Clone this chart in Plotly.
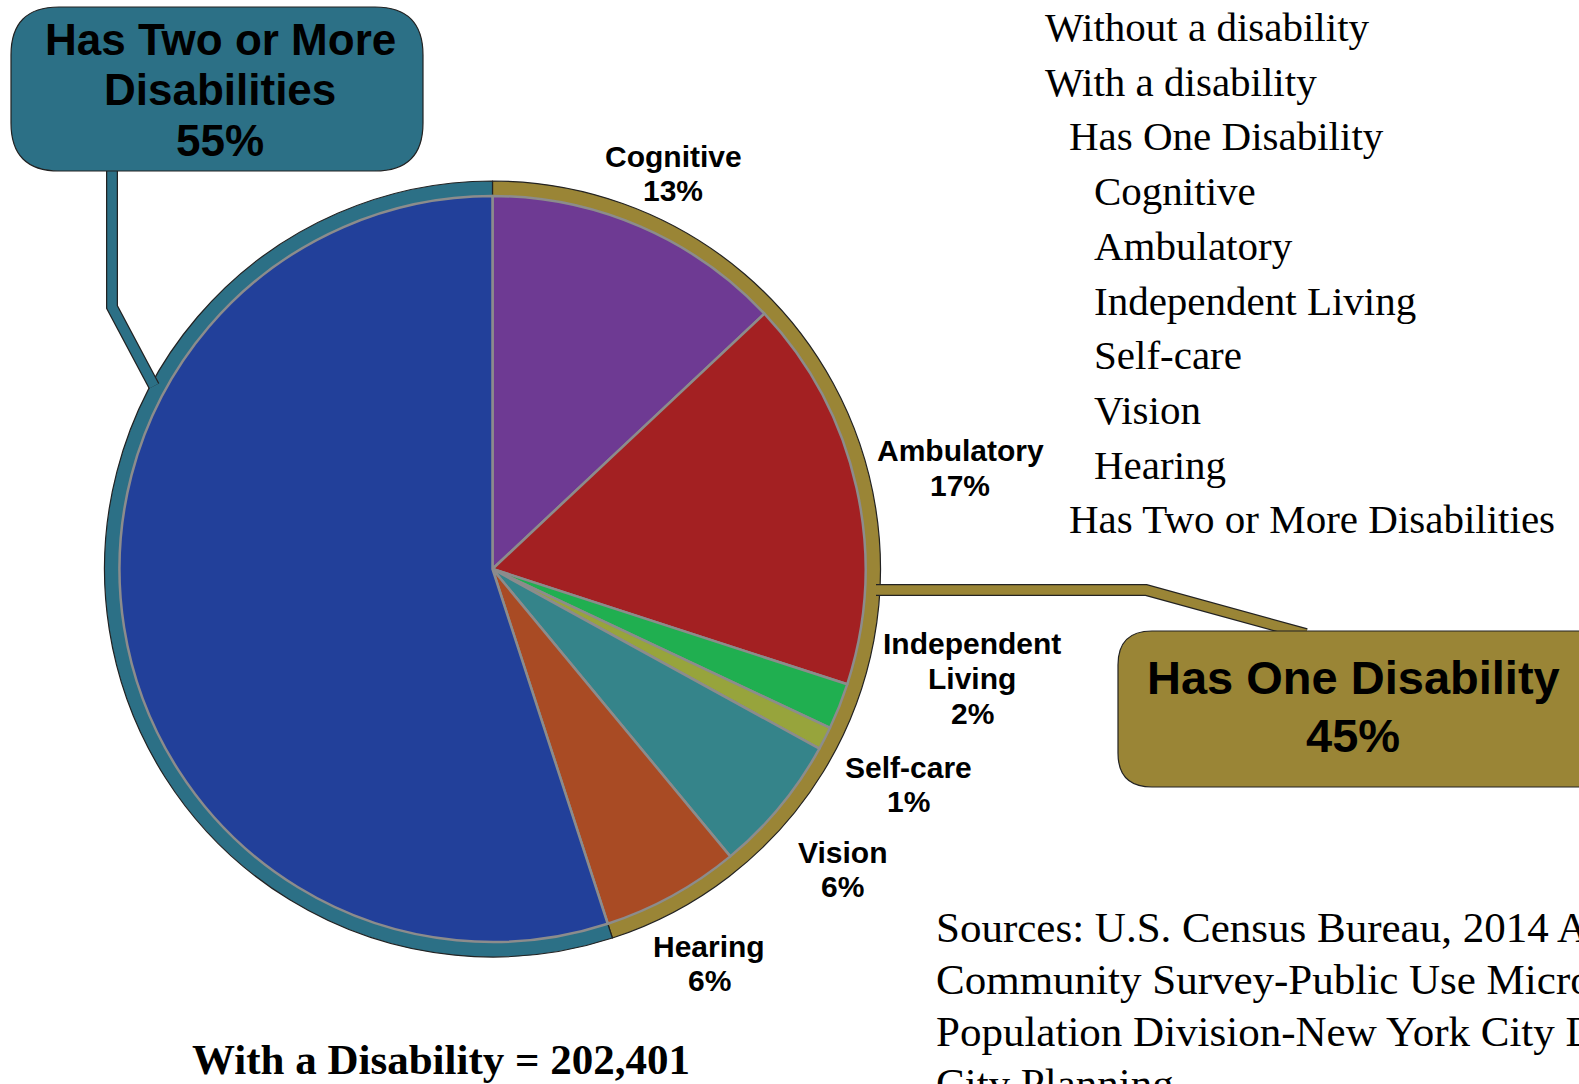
import plotly.graph_objects as go

W, H = 1579, 1084

# ---- data -------------------------------------------------------------
group_labels = ["Has One Disability", "Has Two or More Disabilities"]
group_values = [45, 55]
group_colors = ["#9A8536", "#2C7086"]

type_labels = ["Cognitive", "Ambulatory", "Independent Living", "Self-care",
               "Vision", "Hearing", "Has Two or More Disabilities"]
type_values = [13, 17, 2, 1, 6, 6, 55]
type_colors = ["#6E3A93", "#A32022", "#20AF50", "#97A43C",
               "#35848A", "#A94B24", "#22409A"]

list_items = ["Without a disability", "With a disability", "Has One Disability",
              "Cognitive", "Ambulatory", "Independent Living", "Self-care",
              "Vision", "Hearing", "Has Two or More Disabilities"]
list_levels = [0, 0, 1, 2, 2, 2, 2, 2, 2, 1]

source_lines = ["Sources: U.S. Census Bureau, 2014 American",
                "Community Survey-Public Use Microdata Sample",
                "Population Division-New York City Department of",
                "City Planning"]
total_with_disability = 202401


def px(x):
    return x / W


def py(y):
    return 1 - y / H


def rounded_rect(x0, y0, x1, y1, r):
    pts = [
        f"M {px(x0 + r)},{py(y0)}",
        f"L {px(x1 - r)},{py(y0)}",
        f"Q {px(x1)},{py(y0)} {px(x1)},{py(y0 + r)}",
        f"L {px(x1)},{py(y1 - r)}",
        f"Q {px(x1)},{py(y1)} {px(x1 - r)},{py(y1)}",
        f"L {px(x0 + r)},{py(y1)}",
        f"Q {px(x0)},{py(y1)} {px(x0)},{py(y1 - r)}",
        f"L {px(x0)},{py(y0 + r)}",
        f"Q {px(x0)},{py(y0)} {px(x0 + r)},{py(y0)}",
        "Z",
    ]
    return " ".join(pts)


def polyline(points):
    return " ".join(("M" if i == 0 else "L") + f" {px(x)},{py(y)}"
                    for i, (x, y) in enumerate(points))


# pie geometry (pixels)
cx, cy = 492.5, 569
r_outer, r_inner = 388, 373

fig = go.Figure()

fig.add_trace(go.Pie(
    labels=group_labels, values=group_values,
    marker=dict(colors=group_colors, line=dict(color="#222222", width=1.2)),
    hole=0.9, sort=False, direction="clockwise", rotation=0,
    textinfo="none", hoverinfo="label+percent", showlegend=False,
    domain=dict(x=[px(cx - r_outer), px(cx + r_outer)],
                y=[py(cy + r_outer), py(cy - r_outer)]),
))

fig.add_trace(go.Pie(
    labels=type_labels, values=type_values,
    marker=dict(colors=type_colors, line=dict(color="#8C8C8C", width=2.5)),
    sort=False, direction="clockwise", rotation=0,
    textinfo="none", hoverinfo="label+percent", showlegend=False,
    domain=dict(x=[px(cx - r_inner), px(cx + r_inner)],
                y=[py(cy + r_inner), py(cy - r_inner)]),
))

shapes = []
# connector lines (dark outline underneath, coloured core on top)
teal_path = polyline([(112, 168), (112, 307), (154, 386)])
olive_path = polyline([(876, 590), (1146, 590), (1306, 634)])
for path, col in [(teal_path, group_colors[1]), (olive_path, group_colors[0])]:
    shapes.append(dict(type="path", path=path, xref="paper", yref="paper",
                       line=dict(color="#222222", width=12)))
    shapes.append(dict(type="path", path=path, xref="paper", yref="paper",
                       line=dict(color=col, width=9.5)))

# callout boxes
shapes.append(dict(type="path", path=rounded_rect(11, 7, 423, 171, 48),
                   xref="paper", yref="paper", fillcolor=group_colors[1],
                   line=dict(color="#222222", width=1.2)))
shapes.append(dict(type="path", path=rounded_rect(1118, 631, 1620, 787, 34),
                   xref="paper", yref="paper", fillcolor=group_colors[0],
                   line=dict(color="#222222", width=1.2)))

annotations = []


def add_lines(lines, x, y_first, spacing, font, xanchor="center", bold=False):
    for i, t in enumerate(lines):
        annotations.append(dict(
            x=px(x), y=py(y_first + i * spacing), xref="paper", yref="paper",
            text=f"<b>{t}</b>" if bold else t, showarrow=False,
            xanchor=xanchor, yanchor="middle", font=font))


sans = dict(family="Liberation Sans, Arial, sans-serif", size=30, color="black")
serif = dict(family="Liberation Serif, Times New Roman, serif", size=41, color="black")

# slice labels
label_pos = {
    "Cognitive": (673, 156),
    "Ambulatory": (960, 451),
    "Independent Living": (972, 644),
    "Self-care": (908, 767),
    "Vision": (842, 852),
    "Hearing": (709, 946),
}
for name, val in zip(type_labels, type_values):
    if name not in label_pos:
        continue
    x, y = label_pos[name]
    words = ["Independent", "Living"] if name == "Independent Living" else [name]
    add_lines(words + [f"{val}%"], x, y, 34.5, sans, bold=True)

# callout texts
add_lines(["Has Two or More", "Disabilities", f"{group_values[1]}%"],
          220, 40, 50, dict(sans, size=44), bold=True)
add_lines([group_labels[0], f"{group_values[0]}%"],
          1353, 677, 58, dict(sans, size=47), bold=True)

# hierarchical label list
indent = {0: 1043, 1: 1067, 2: 1092}
for i, (t, lvl) in enumerate(zip(list_items, list_levels)):
    add_lines([t], indent[lvl], 27 + i * 54.7, 0, serif, xanchor="left")

# sources
add_lines(source_lines, 934, 927, 52, dict(serif, size=43), xanchor="left")

# total
add_lines([f"With a Disability = {total_with_disability:,}"], 441, 1059, 0,
          dict(serif, size=43), bold=True)

fig.update_layout(
    width=W, height=H,
    margin=dict(l=0, r=0, t=0, b=0),
    paper_bgcolor="white", plot_bgcolor="white",
    shapes=shapes, annotations=annotations,
    showlegend=False,
)

fig.write_html("out.html")
